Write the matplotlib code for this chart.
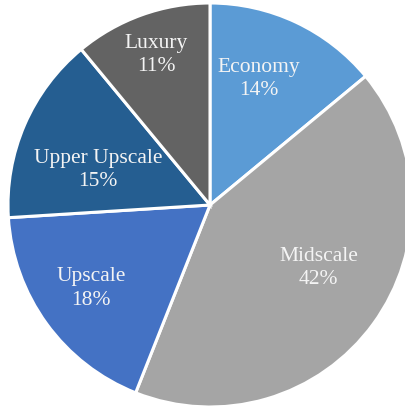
import numpy as np
import matplotlib
matplotlib.use("Agg")
import matplotlib.pyplot as plt

# hotel segment share
segments = ['Economy', 'Midscale', 'Upscale', 'Upper Upscale', 'Luxury']
shares = [14, 42, 18, 15, 11]
colors = ['#5B9BD5', '#A5A5A5', '#4472C4', '#255E91', '#636363']
# label placement: radius fraction and angle nudge (deg) per wedge
label_dist = [0.67, 0.62, 0.72, 0.58, 0.79]
label_shift = [4, 6, -1, 6, 0]

plt.rcParams['font.family'] = ['Liberation Serif', 'DejaVu Serif']

fig = plt.figure(figsize=(4.06, 4.08), dpi=100)
# pie centre sits at (210, 205) px with a 202 px radius
ax = fig.add_axes([8 / 406, 1 / 408, 404 / 406, 404 / 408])

wedges, _ = ax.pie(shares, colors=colors, startangle=90, counterclock=False,
                   radius=1.0, wedgeprops=dict(edgecolor='white', linewidth=2.2))

total = float(sum(shares))
for w, name, val, d, s in zip(wedges, segments, shares, label_dist, label_shift):
    mid = np.deg2rad((w.theta1 + w.theta2) / 2 + s)
    x, y = d * np.cos(mid), d * np.sin(mid)
    ax.text(x, y, f'{name}\n{val / total * 100:.0f}%', ha='center', va='center',
            color='#F4F4F4', fontsize=15.5, linespacing=1.3)

ax.set_xlim(-1, 1)
ax.set_ylim(-1, 1)
ax.set_aspect('equal')
ax.axis('off')

fig.savefig('out.png', dpi=100)
